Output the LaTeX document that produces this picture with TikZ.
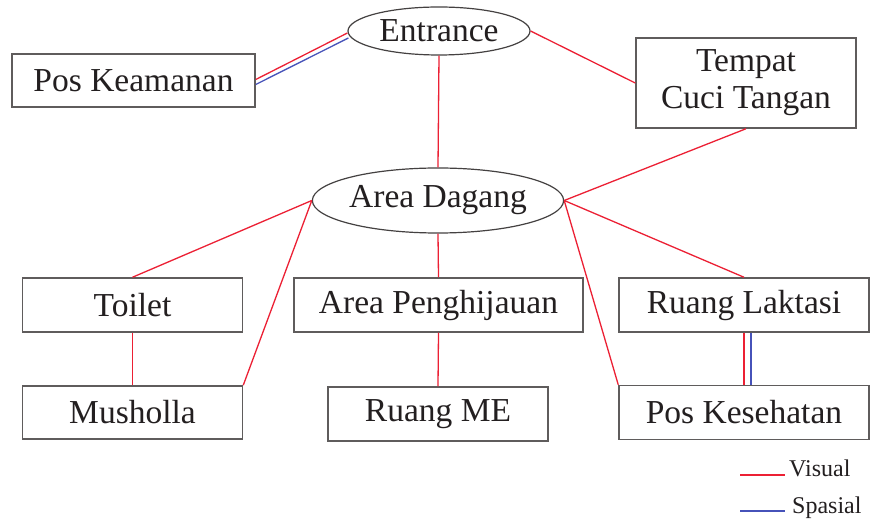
\documentclass[tikz,border=0pt]{standalone}
\usepackage{fontspec}
\setmainfont{Liberation Serif}
\usetikzlibrary{shapes.geometric,calc}

\definecolor{inkc}{RGB}{35,31,32}
\definecolor{framec}{RGB}{95,92,92}
\definecolor{visred}{RGB}{236,32,52}
\definecolor{spablue}{RGB}{70,82,185}

\tikzset{
  room/.style={draw=framec, line width=1.5pt, rectangle, inner sep=0pt,
    text=inkc, font=\fontsize{33.5}{37}\selectfont, align=center},
  hub/.style={draw=inkc!85, line width=1.2pt, ellipse, inner sep=0pt,
    text=inkc, font=\fontsize{33.5}{37}\selectfont},
  vis/.style={draw=visred, line width=1.3pt},
  spa/.style={draw=spablue, line width=1.3pt},
  keytext/.style={text=inkc, font=\fontsize{24}{28}\selectfont, inner sep=0pt, anchor=base west}
}

\begin{document}
\begin{tikzpicture}[x=1pt, y=-1pt]
\useasboundingbox[fill=white] (0,0) rectangle (871,521);

% central nodes
\node[hub, minimum width=182pt, minimum height=48pt] (ent) at (439,31) {Entrance};
\node[hub, minimum width=247pt, minimum height=65pt] (ad) at (438,200.5) {Area Dagang};

% rooms
\node[room, minimum width=243pt, minimum height=53pt] (pk)   at (133.5,80.5) {Pos Keamanan};
\node[room, minimum width=220pt, minimum height=90pt] (tct)  at (746,83) {Tempat\\Cuci Tangan};
\node[room, minimum width=220pt, minimum height=54pt] (toi)  at (132.5,305) {Toilet};
\node[room, minimum width=220pt, minimum height=53pt] (mus)  at (132.5,412.5) {Musholla};
\node[room, minimum width=289pt, minimum height=54pt] (aph)  at (438.5,305) {Area Penghijauan};
\node[room, minimum width=220pt, minimum height=54pt] (rme)  at (438,414) {Ruang ME};
\node[room, minimum width=250pt, minimum height=54pt] (rl)   at (744,305) {Ruang Laktasi};
\node[room, minimum width=250pt, minimum height=54pt] (pkes) at (744,412.5) {Pos Kesehatan};

% visual links
\draw[vis] (ent.east) -- (tct.west);
\draw[vis] (ent.south) -- (ad.north);
\draw[vis] (tct.south) -- (ad.east);
\draw[vis] (ad.west) -- (toi.north);
\draw[vis] (ad.west) -- (mus.north east);
\draw[vis] (toi.south) -- (mus.north);
\draw[vis] (ad.south) -- (aph.north);
\draw[vis] (aph.south) -- (rme.north);
\draw[vis] (ad.east) -- (rl.north);
\draw[vis] (ad.east) -- (pkes.north west);

% visual + spatial pairs
\draw[vis] ($(ent.west)+(0,2)$) -- ($(pk.east)+(0,-1)$);
\draw[spa] ($(ent.west)+(1,7)$) -- ($(pk.east)+(0,4)$);
\draw[vis] (rl.south) -- (pkes.north);
\draw[spa] ($(rl.south)+(7,0)$) -- ($(pkes.north)+(7,0)$);

% key
\coordinate (k1a) at (740,475);
\coordinate (k1b) at (785,475);
\coordinate (k2a) at (740,511);
\coordinate (k2b) at (785,511);
\draw[vis] (k1a) -- (k1b);
\draw[spa] (k2a) -- (k2b);
\node[keytext] (kv) at (789,477) {Visual};
\node[keytext] (ks) at (792,513) {Spasial};
\end{tikzpicture}
\end{document}
